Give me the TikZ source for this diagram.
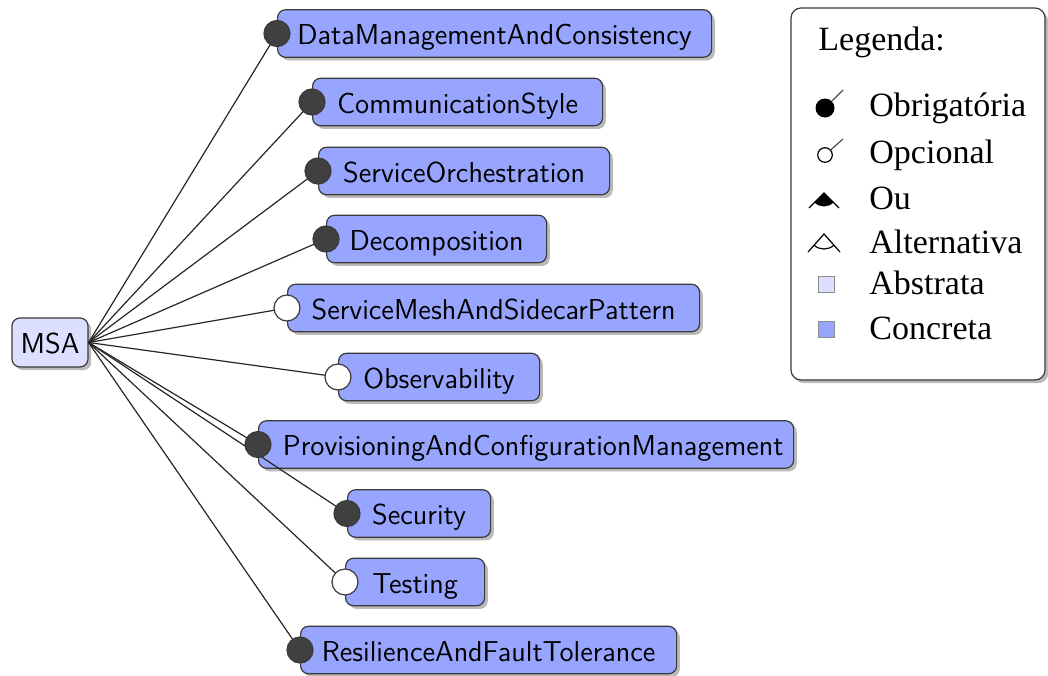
\documentclass[tikz,border=0pt]{standalone}
\usepackage{fontspec}
\newfontfamily\legendfont{Liberation Serif}
\usetikzlibrary{shadows}
\definecolor{concrete}{HTML}{98A5FF}
\definecolor{abstract}{HTML}{DCDFFF}
\definecolor{edgegray}{HTML}{3A3A3A}
\definecolor{knob}{HTML}{404040}
\tikzset{
  boxshadow/.style={drop shadow={shadow xshift=1.6pt,shadow yshift=-1.6pt,opacity=0.45,fill=black!60}},
  feature/.style={draw=edgegray,line width=0.6pt,rounded corners=4pt,fill=concrete,
    anchor=west,minimum height=23.75pt,minimum width=#1,inner xsep=0pt,inner ysep=0pt,
    text height=11pt,text depth=0pt,
    font=\sffamily\fontsize{14.4}{16}\selectfont,boxshadow},
  rootbox/.style={draw=edgegray,line width=0.6pt,rounded corners=4pt,fill=abstract,
    minimum width=38pt,minimum height=24.5pt,inner sep=0pt,
    text height=11pt,text depth=0pt,
    font=\sffamily\fontsize{14.4}{16}\selectfont,boxshadow},
  mand/.style={circle,draw=edgegray,line width=0.6pt,fill=knob,minimum size=13pt,inner sep=0pt},
  opt/.style={circle,draw=edgegray,line width=0.6pt,fill=white,minimum size=13pt,inner sep=0pt},
  link/.style={draw=black!85,line width=0.6pt},
  legendbox/.style={draw=edgegray,line width=0.6pt,rounded corners=5pt,fill=white,
    minimum width=127pt,minimum height=186pt,inner sep=0pt,boxshadow},
  legendtext/.style={anchor=west,inner sep=0pt,font=\legendfont\fontsize{17}{19}\selectfont},
  legendsq/.style={draw=black!45,line width=0.5pt,minimum size=8pt,inner sep=0pt},
  glyph/.style={line width=0.6pt},
}
\begin{document}
\begin{tikzpicture}[x=0.5pt,y=-0.5pt]
\useasboundingbox (0,0) rectangle (1048,675);

% root feature
\node[rootbox] (msa) at (50,342.5) {MSA};

% child features (west anchor, width)
\node[feature=217pt]   (f1)  at (277,33.5) {DataManagementAndConsistency};
\node[feature=145pt]   (f2)  at (312,102)  {CommunicationStyle};
\node[feature=145.5pt] (f3)  at (318,171)  {ServiceOrchestration};
\node[feature=110pt]   (f4)  at (326,239)  {Decomposition};
\node[feature=206pt]   (f5)  at (287,308)  {ServiceMeshAndSidecarPattern};
\node[feature=100.5pt] (f6)  at (338,377)  {Observability};
\node[feature=267.5pt,text width=257.5pt,align=flush right]
                       (f7)  at (258,444.5){ProvisioningAndConfigurationManagement};
\node[feature=71.5pt]  (f8)  at (347,513.5){Security};
\node[feature=69.5pt]  (f9)  at (345,582)  {Testing};
\node[feature=188pt]   (f10) at (300,650)  {ResilienceAndFaultTolerance};

% edges from the root
\foreach \f in {f1,f2,f3,f4,f5,f6,f7,f8,f9,f10}
  \draw[link] (msa.east) -- (\f.west);

% mandatory / optional markers
\node[mand] (k1)  at (f1.west)  {};
\node[mand] (k2)  at (f2.west)  {};
\node[mand] (k3)  at (f3.west)  {};
\node[mand] (k4)  at (f4.west)  {};
\node[opt]  (k5)  at (f5.west)  {};
\node[opt]  (k6)  at (f6.west)  {};
\node[mand] (k7)  at (f7.west)  {};
\node[mand] (k8)  at (f8.west)  {};
\node[opt]  (k9)  at (f9.west)  {};
\node[mand] (k10) at (f10.west) {};

% legend
\node[legendbox] (legend) at (918,194) {};
\node[legendtext] (lt) at (818,42) {Legenda:};

\node[circle,fill=black,minimum size=9.5pt,inner sep=0pt] (lm) at (825,108) {};
\coordinate (lmend) at (843,90);
\draw[glyph,black!70] (lm) -- (lmend);
\node[legendtext] (t1) at (869,108) {Obrigatória};

\node[circle,draw=black,line width=0.6pt,fill=white,minimum size=7.3pt,inner sep=0pt] (lo) at (825,155) {};
\coordinate (loend) at (843,139);
\draw[glyph,black!70] (lo) -- (loend);
\node[legendtext] (t2) at (869,155) {Opcional};

% or-group glyph: filled sector under the apex
\coordinate (or) at (824,193);
\fill (or) -- ++(-9.5,9.5) arc[start angle=135,end angle=45,radius=13.4] -- cycle;
\draw[glyph] (809,208) -- (or) -- (839,208);
\node[legendtext] (t3) at (869,198) {Ou};

% alternative-group glyph: open arc under the apex
\coordinate (alt) at (824,234);
\draw[glyph] (808,252) -- (alt) -- (840,252);
\draw[glyph] (alt) ++(-9.97,11.2) arc[start angle=131.6,end angle=48.4,radius=15];
\node[legendtext] (t4) at (869,242) {Alternativa};

\node[legendsq,fill=abstract] (sa) at (826,284) {};
\node[legendtext] (t5) at (869,283) {Abstrata};
\node[legendsq,fill=concrete] (sc) at (826,329) {};
\node[legendtext] (t6) at (869,328) {Concreta};
\end{tikzpicture}
\end{document}
